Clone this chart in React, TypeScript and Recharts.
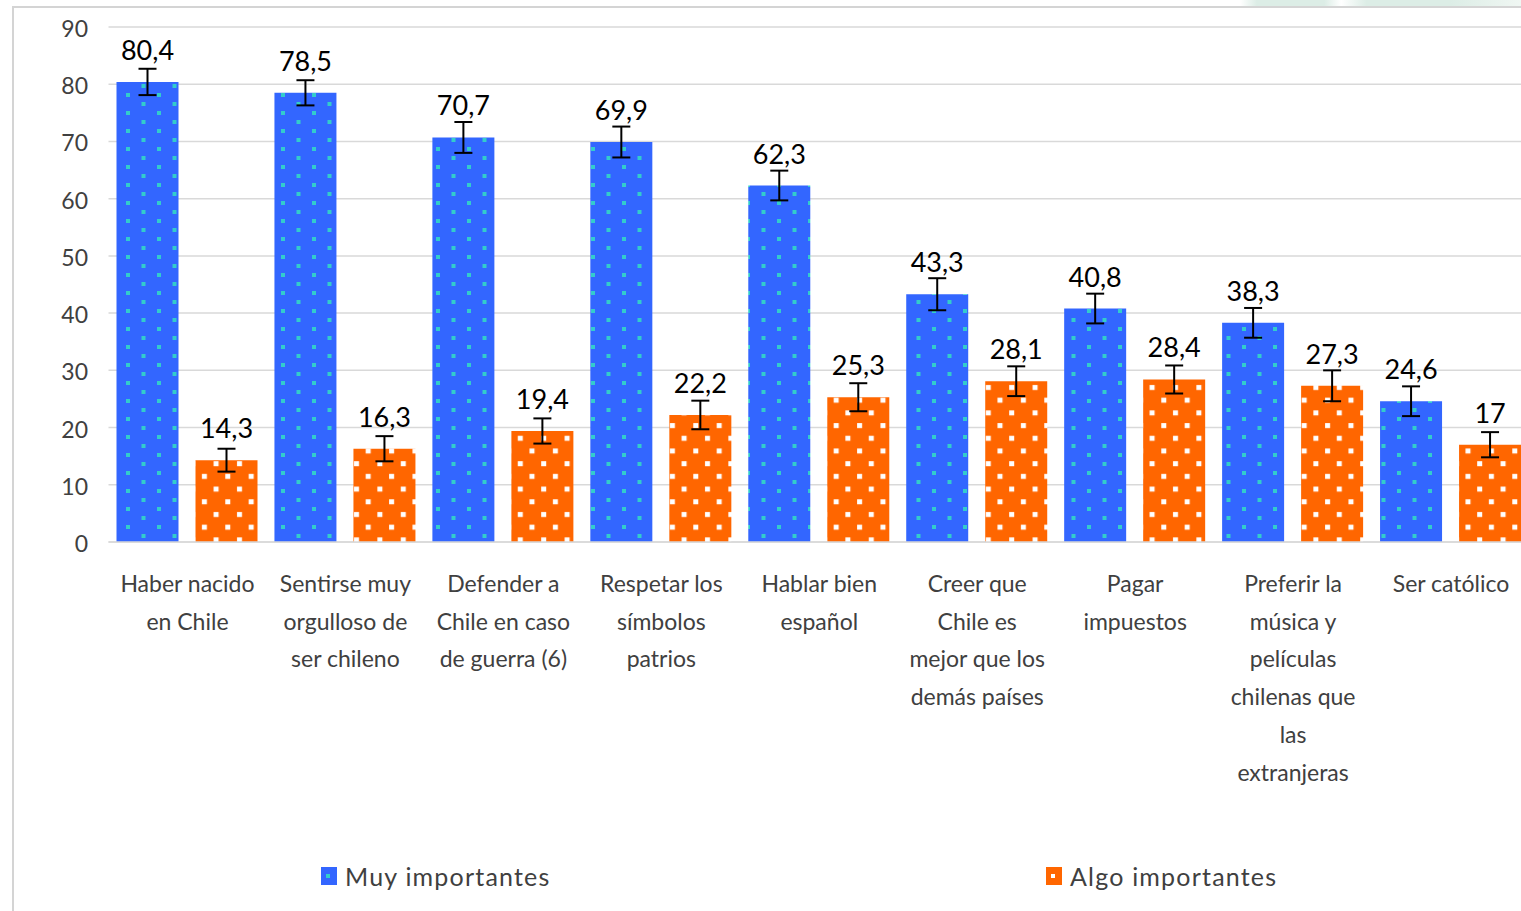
import { Bar, BarChart, CartesianGrid, ErrorBar, LabelList, XAxis, YAxis } from 'recharts'

const categories = [
  'Haber nacido\nen Chile',
  'Sentirse muy\norgulloso de\nser chileno',
  'Defender a\nChile en caso\nde guerra (6)',
  'Respetar los\nsímbolos\npatrios',
  'Hablar bien\nespañol',
  'Creer que\nChile es\nmejor que los\ndemás países',
  'Pagar\nimpuestos',
  'Preferir la\nmúsica y\npelículas\nchilenas que\nlas\nextranjeras',
  'Ser católico',
]
const muyImportantes = [80.4, 78.5, 70.7, 69.9, 62.3, 43.3, 40.8, 38.3, 24.6]
const muyError = [2.3, 2.2, 2.7, 2.7, 2.6, 2.8, 2.6, 2.6, 2.6]
const algoImportantes = [14.3, 16.3, 19.4, 22.2, 25.3, 28.1, 28.4, 27.3, 17]
const algoError = [2.0, 2.2, 2.2, 2.5, 2.45, 2.6, 2.45, 2.7, 2.2]
const yTicks = [0, 10, 20, 30, 40, 50, 60, 70, 80, 90]
const seriesNames = ['Muy importantes', 'Algo importantes']

const data = categories.map((c, i) => ({
  name: c,
  muy: muyImportantes[i],
  muyErr: muyError[i],
  algo: algoImportantes[i],
  algoErr: algoError[i],
}))

const FONT = 'Lato, "Open Sans", sans-serif'
const AXIS_TEXT = '#404040'
const BLUE = '#3366ff'
const TEAL = '#33cccc'
const ORANGE = '#ff6600'
const PLOT_BOTTOM = 542

const fmt = (v: number) => String(v).replace('.', ',')

// value sits ~33px above the bar top
const renderValue = (props: { x?: number | string; y?: number | string; width?: number | string; value?: number | string }) => {
  const { x, y, width, value } = props
  if (x == null || y == null || width == null || value == null) return null
  return (
    <text
      x={Number(x) + Number(width) / 2}
      y={Number(y) - 22}
      textAnchor="middle"
      fill="#000"
      fontSize={27}
      fontFamily={FONT}
    >
      {fmt(Number(value))}
    </text>
  )
}

const CategoryTick = (props: { x?: number; payload?: { value: string } }) => {
  const { x, payload } = props
  if (x == null || !payload) return null
  const lines = payload.value.split('\n')
  return (
    <text textAnchor="middle" fill={AXIS_TEXT} fontSize={23} fontFamily={FONT}>
      {lines.map((l, i) => (
        <tspan key={i} x={x} y={PLOT_BOTTOM + 50 + i * 37.7}>
          {l}
        </tspan>
      ))}
    </text>
  )
}

const ValueTick = (props: { y?: number; payload?: { value: number } }) => {
  const { y, payload } = props
  if (y == null || !payload) return null
  return (
    <text x={88} y={y + 10} textAnchor="end" fill={AXIS_TEXT} fontSize={23} fontFamily={FONT}>
      {payload.value}
    </text>
  )
}

function LegendItem({ left, color, dot, label }: { left: number; color: string; dot: string; label: string }) {
  return (
    <div style={{ position: 'absolute', left, top: 862, display: 'flex', alignItems: 'center' }}>
      <div style={{ width: 16, height: 18, background: color, position: 'relative', marginRight: 8 }}>
        <div style={{ position: 'absolute', left: 5, top: 7, width: 4, height: 4, background: dot }} />
      </div>
      <span style={{ fontFamily: FONT, fontSize: 25, color: AXIS_TEXT, letterSpacing: 1.2, lineHeight: '28px' }}>
        {label}
      </span>
    </div>
  )
}

export default function App() {
  return (
    <div
      style={{
        position: 'absolute',
        left: 0,
        top: 0,
        width: 1521,
        height: 911,
        overflow: 'hidden',
        background: '#fff',
      }}
    >
      {/* slide background remnant + frame */}
      <div
        style={{
          position: 'absolute',
          left: 1240,
          top: 0,
          width: 281,
          height: 6,
          background: 'linear-gradient(90deg, #fff 0%, #dcede6 6%, #dcede6 30%, #fff 36%, #dcede6 45%, #dcede6 75%, #f0f7f3 100%)',
        }}
      />
      <div
        style={{
          position: 'absolute',
          left: 12,
          top: 6,
          width: 1600,
          height: 1000,
          borderLeft: '2px solid #d4d4d4',
          borderTop: '2px solid #d4d4d4',
        }}
      />
      <div style={{ position: 'absolute', left: 0, top: 0 }}>
        <BarChart
          width={1530}
          height={911}
          data={data}
          margin={{ top: 27, right: 0, bottom: 0, left: 0 }}
          barSize={62}
          barGap={17}
        >
          <defs>
            <pattern id="bluePat" patternUnits="userSpaceOnUse" width={31} height={18}>
              <rect width={31} height={18} fill={BLUE} />
              <rect x={2} y={3} width={4} height={4} fill={TEAL} />
              <rect x={17.5} y={12} width={4} height={4} fill={TEAL} />
            </pattern>
            <pattern id="orangePat" patternUnits="userSpaceOnUse" width={23.4} height={25.4}>
              <rect width={23.4} height={25.4} fill={ORANGE} />
              <rect x={3} y={4} width={5} height={5} fill="#fff" />
              <rect x={14.7} y={16.7} width={5} height={5} fill="#fff" />
            </pattern>
          </defs>
          <CartesianGrid horizontal vertical={false} stroke="#d9d9d9" strokeWidth={1.5} />
          <XAxis
            dataKey="name"
            height={369}
            interval={0}
            tickLine={false}
            axisLine={{ stroke: '#d9d9d9', strokeWidth: 1.5 }}
            tick={<CategoryTick />}
          />
          <YAxis
            width={108.5}
            domain={[0, 90]}
            ticks={yTicks}
            interval={0}
            tickLine={false}
            axisLine={false}
            tick={<ValueTick />}
          />
          <Bar dataKey="muy" name={seriesNames[0]} fill="url(#bluePat)" isAnimationActive={false}>
            <ErrorBar dataKey="muyErr" width={9} stroke="#000" strokeWidth={2} />
            <LabelList dataKey="muy" content={renderValue} />
          </Bar>
          <Bar dataKey="algo" name={seriesNames[1]} fill="url(#orangePat)" isAnimationActive={false}>
            <ErrorBar dataKey="algoErr" width={9} stroke="#000" strokeWidth={2} />
            <LabelList dataKey="algo" content={renderValue} />
          </Bar>
        </BarChart>
      </div>
      <LegendItem left={321} color={BLUE} dot={TEAL} label={seriesNames[0]} />
      <LegendItem left={1046} color={ORANGE} dot="#fff" label={seriesNames[1]} />
    </div>
  )
}
